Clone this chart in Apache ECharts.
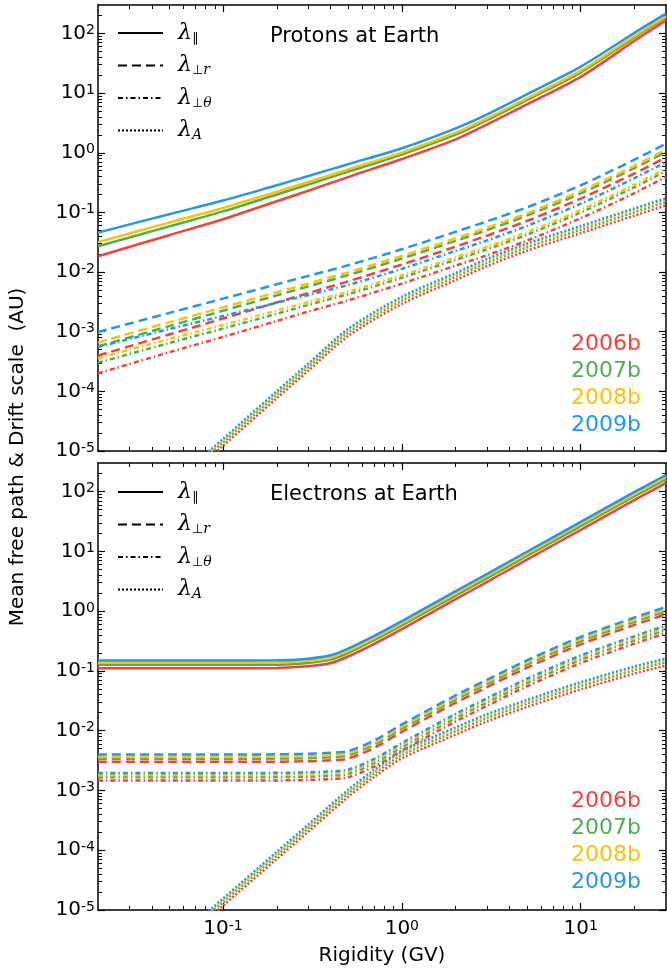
<!DOCTYPE html>
<html>
<head>
<meta charset="utf-8">
<script src="https://cdn.jsdelivr.net/npm/echarts@6.0.0/dist/echarts.min.js"></script>
<style>
  html, body { margin: 0; padding: 0; background: #fff; }
  #chart { width: 667px; height: 974px; }
</style>
</head>
<body>
<div id="chart"></div>
<script>
// ---- data (rows: 2006b, 2007b, 2008b, 2009b) ----
var years = ['2006b', '2007b', '2008b', '2009b'];
var colors = ['#F44336', '#4CAF50', '#FFC107', '#2196F3'];

// rigidity grids in GV
var rigP = [0.02, 0.05, 0.1, 0.2, 0.3, 0.5, 1, 2, 3, 5, 10, 20, 30];
var rigPA = [0.05, 0.1, 0.2, 0.3, 0.5, 1, 2, 3, 5, 10, 20, 30];
var rigE = [0.02, 0.05, 0.1, 0.2, 0.3, 0.4, 0.5, 0.7, 1, 2, 3, 5, 10, 20, 30];
var rigEA = [0.05, 0.1, 0.2, 0.3, 0.5, 0.7, 1, 2, 3, 5, 10, 20, 30];

// protons at Earth (AU)
var pPar = [
  [0.0184, 0.0415, 0.0769, 0.154, 0.231, 0.391, 0.785, 1.68, 3.0, 6.49, 18.75, 75.3, 166],
  [0.0270, 0.0583, 0.104, 0.1995, 0.293, 0.482, 0.936, 2.01, 3.52, 7.64, 22.1, 86.1, 185],
  [0.0318, 0.0675, 0.1186, 0.223, 0.324, 0.527, 1.007, 2.17, 3.78, 8.18, 23.8, 91.0, 194],
  [0.0458, 0.0933, 0.158, 0.286, 0.407, 0.643, 1.19, 2.57, 4.41, 9.55, 27.8, 103, 215]
];
var pPerpR = [
  [3.98e-4, 8.99e-4, 1.667e-3, 3.09e-3, 4.44e-3, 6.98e-3, 0.01337, 0.0267, 0.0409, 0.0718, 0.1706, 0.450, 0.841],
  [5.68e-4, 1.242e-3, 2.244e-3, 4.06e-3, 5.75e-3, 8.89e-3, 0.01683, 0.0334, 0.0507, 0.0881, 0.2084, 0.553, 1.033],
  [6.62e-4, 1.432e-3, 2.559e-3, 4.58e-3, 6.44e-3, 9.89e-3, 0.01862, 0.0368, 0.0557, 0.0964, 0.2275, 0.607, 1.13],
  [9.89e-4, 2.06e-3, 3.58e-3, 6.24e-3, 8.63e-3, 0.01297, 0.02415, 0.0473, 0.0710, 0.1213, 0.285, 0.767, 1.42]
];
var pPerpT = [
  [2.0e-4, 4.51e-4, 8.17e-4, 1.514e-3, 2.173e-3, 3.34e-3, 6.40e-3, 0.0128, 0.01914, 0.0336, 0.0798, 0.2104, 0.394],
  [3.01e-4, 6.46e-4, 1.13e-3, 2.0e-3, 2.81e-3, 4.25e-3, 8.04e-3, 0.01607, 0.0241, 0.0422, 0.0998, 0.2655, 0.494],
  [3.58e-4, 7.52e-4, 1.297e-3, 2.26e-3, 3.13e-3, 4.70e-3, 8.85e-3, 0.0177, 0.02655, 0.0465, 0.1099, 0.2931, 0.5445],
  [5.56e-4, 1.107e-3, 1.837e-3, 3.05e-3, 4.13e-3, 6.07e-3, 0.0113, 0.02265, 0.034, 0.0594, 0.1396, 0.376, 0.697]
];
var pDrift = [
  [1.97e-6, 1.22e-5, 7.67e-5, 2.21e-4, 8.41e-4, 2.92e-3, 7.33e-3, 0.01259, 0.02275, 0.0449, 0.0885, 0.1312],
  [2.24e-6, 1.38e-5, 8.71e-5, 2.51e-4, 9.55e-4, 3.31e-3, 8.32e-3, 0.01429, 0.02582, 0.0509, 0.1005, 0.149],
  [2.40e-6, 1.48e-5, 9.33e-5, 2.69e-4, 1.023e-3, 3.55e-3, 8.91e-3, 0.01531, 0.02767, 0.05458, 0.1076, 0.1596],
  [2.60e-6, 1.60e-5, 1.01e-4, 2.92e-4, 1.109e-3, 3.85e-3, 9.66e-3, 0.0166, 0.03, 0.0592, 0.1167, 0.173]
];

// electrons at Earth (AU)
var ePar = [
  [0.111, 0.111, 0.111, 0.112, 0.119, 0.135, 0.174, 0.284, 0.50, 1.58, 3.09, 7.24, 22.9, 72.4, 139],
  [0.126, 0.126, 0.126, 0.127, 0.136, 0.154, 0.199, 0.326, 0.576, 1.82, 3.56, 8.34, 26.4, 83.4, 160],
  [0.137, 0.137, 0.137, 0.138, 0.147, 0.167, 0.216, 0.354, 0.625, 1.98, 3.86, 9.04, 28.6, 90.4, 174],
  [0.149, 0.149, 0.149, 0.150, 0.160, 0.182, 0.235, 0.385, 0.68, 2.15, 4.2, 9.84, 31.1, 98.4, 189]
];
var ePerpR = [
  [3.01e-3, 3.01e-3, 3.01e-3, 3.02e-3, 3.08e-3, 3.20e-3, 3.42e-3, 5.15e-3, 9.55e-3, 0.0293, 0.0537, 0.1128, 0.2774, 0.5865, 0.88],
  [3.39e-3, 3.39e-3, 3.39e-3, 3.41e-3, 3.47e-3, 3.60e-3, 3.86e-3, 5.81e-3, 0.01076, 0.0331, 0.0605, 0.1271, 0.3127, 0.661, 0.992],
  [3.64e-3, 3.64e-3, 3.64e-3, 3.65e-3, 3.73e-3, 3.86e-3, 4.14e-3, 6.23e-3, 0.01155, 0.0355, 0.0649, 0.1364, 0.3355, 0.709, 1.064],
  [4.0e-3, 4.0e-3, 4.0e-3, 4.02e-3, 4.1e-3, 4.25e-3, 4.55e-3, 6.85e-3, 0.0127, 0.039, 0.0714, 0.15, 0.369, 0.78, 1.17]
];
var ePerpT = [
  [1.46e-3, 1.46e-3, 1.46e-3, 1.47e-3, 1.50e-3, 1.55e-3, 1.66e-3, 2.51e-3, 4.64e-3, 0.01425, 0.0261, 0.0549, 0.135, 0.285, 0.428],
  [1.66e-3, 1.66e-3, 1.66e-3, 1.67e-3, 1.70e-3, 1.76e-3, 1.89e-3, 2.85e-3, 5.27e-3, 0.01619, 0.0297, 0.0623, 0.1534, 0.324, 0.486],
  [1.80e-3, 1.80e-3, 1.80e-3, 1.81e-3, 1.84e-3, 1.91e-3, 2.05e-3, 3.08e-3, 5.71e-3, 0.01752, 0.0321, 0.0674, 0.166, 0.350, 0.526],
  [1.96e-3, 1.96e-3, 1.96e-3, 1.97e-3, 2.01e-3, 2.08e-3, 2.23e-3, 3.36e-3, 6.22e-3, 0.0191, 0.035, 0.0735, 0.181, 0.382, 0.573]
];
var eDrift = [
  [1.94e-6, 1.18e-5, 7.14e-5, 2.05e-4, 7.74e-4, 1.68e-3, 3.43e-3, 8.61e-3, 0.01429, 0.0248, 0.049, 0.0902, 0.1227],
  [2.20e-6, 1.34e-5, 8.11e-5, 2.33e-4, 8.79e-4, 1.905e-3, 3.89e-3, 9.77e-3, 0.01622, 0.0282, 0.0556, 0.1023, 0.1393],
  [2.36e-6, 1.43e-5, 8.69e-5, 2.49e-4, 9.42e-4, 2.04e-3, 4.17e-3, 0.01047, 0.01738, 0.0302, 0.0596, 0.1096, 0.1493],
  [2.56e-6, 1.55e-5, 9.42e-5, 2.70e-4, 1.021e-3, 2.21e-3, 4.52e-3, 0.01135, 0.01884, 0.0327, 0.0646, 0.1189, 0.1618]
];

// axis ranges and tick values
var xMin = 0.02, xMax = 30;
var yMin = 1e-5, yMax = 300;
var xMajor = [0.1, 1, 10];
var yMajor = [1e-5, 1e-4, 1e-3, 1e-2, 1e-1, 1, 10, 100];
var xMinor = [], yMinor = [];
[0.01, 0.1, 1, 10].forEach(function (d) {
  for (var k = 2; k <= 9; k++) {
    var v = +(k * d).toPrecision(3);
    if (v > xMin && v < xMax) xMinor.push(v);
  }
});
yMajor.forEach(function (d) {
  for (var k = 2; k <= 9; k++) {
    var v = +(k * d).toPrecision(3);
    if (v < yMax) yMinor.push(v);
  }
});

var font = 'DejaVu Sans';
var lamKeys = ['par', 'perpR', 'perpT', 'drift'];
var lamText = {
  par: '{l|λ}{s|∥}',
  perpR: '{l|λ}{s|⊥}{i|r}',
  perpT: '{l|λ}{s|⊥}{i|θ}',
  drift: '{l|λ}{i|A}'
};
var dash = {par: 'solid', perpR: [9, 5], perpT: [5, 3, 1.5, 3], drift: [2, 2]};

function powLabel(v) {
  return '{b|10}{p|' + Math.round(Math.log10(v)) + '}';
}
var powRich = {
  b: {fontFamily: font, fontSize: 20, lineHeight: 20, color: '#000'},
  p: {fontFamily: font, fontSize: 14, lineHeight: 9, verticalAlign: 'top', color: '#000'}
};

var xAxes = [], yAxes = [];
function addAxes(gi, withLabels) {
  ['bottom', 'top'].forEach(function (pos) {
    var lab = withLabels && pos === 'bottom';
    xAxes.push({
      type: 'log', logBase: 10, gridIndex: gi, position: pos, min: xMin, max: xMax,
      axisLine: {show: true, lineStyle: {color: '#000', width: 1.5}},
      axisTick: {show: true, inside: true, length: 7, customValues: xMajor, lineStyle: {color: '#000', width: 1.2}},
      axisLabel: {show: lab, customValues: xMajor, formatter: powLabel, rich: powRich, margin: 9},
      splitLine: {show: false},
      name: lab ? 'Rigidity (GV)' : '', nameLocation: 'middle', nameGap: 36,
      nameTextStyle: {fontFamily: font, fontSize: 20, color: '#000'}
    });
    xAxes.push({
      type: 'log', logBase: 10, gridIndex: gi, position: pos, min: xMin, max: xMax,
      axisLine: {show: false},
      axisTick: {show: true, inside: true, length: 4, customValues: xMinor, lineStyle: {color: '#000', width: 1}},
      axisLabel: {show: false}, splitLine: {show: false}
    });
  });
  ['left', 'right'].forEach(function (pos) {
    yAxes.push({
      type: 'log', logBase: 10, gridIndex: gi, position: pos, min: yMin, max: yMax,
      axisLine: {show: true, lineStyle: {color: '#000', width: 1.5}},
      axisTick: {show: true, inside: true, length: 7, customValues: yMajor, lineStyle: {color: '#000', width: 1.2}},
      axisLabel: {show: pos === 'left', customValues: yMajor, formatter: powLabel, rich: powRich, margin: 3},
      splitLine: {show: false}
    });
    yAxes.push({
      type: 'log', logBase: 10, gridIndex: gi, position: pos, min: yMin, max: yMax,
      axisLine: {show: false},
      axisTick: {show: true, inside: true, length: 4, customValues: yMinor, lineStyle: {color: '#000', width: 1}},
      axisLabel: {show: false}, splitLine: {show: false}
    });
  });
}
addAxes(0, false);
addAxes(1, true);

function pairs(xs, ys) {
  return xs.map(function (x, k) { return [x, ys[k]]; });
}

var series = [];
function addPanel(gi, rig, rigA, par, perpR, perpT, drift) {
  for (var i = 0; i < 4; i++) {
    [[rig, par[i], 'par'], [rig, perpR[i], 'perpR'], [rig, perpT[i], 'perpT'], [rigA, drift[i], 'drift']].forEach(function (c) {
      series.push({
        type: 'line', name: years[i], xAxisIndex: gi * 4, yAxisIndex: gi * 4,
        data: pairs(c[0], c[1]), symbol: 'none', smooth: 0.3, silent: true,
        lineStyle: {color: colors[i], width: 2.5, type: dash[c[2]]},
        itemStyle: {color: colors[i]}
      });
    });
  }
}
addPanel(0, rigP, rigPA, pPar, pPerpR, pPerpT, pDrift);
addPanel(1, rigE, rigEA, ePar, ePerpR, ePerpT, eDrift);

// black key lines for the line-style legend
lamKeys.forEach(function (k) {
  series.push({
    type: 'line', name: k, xAxisIndex: 0, yAxisIndex: 0, data: [], symbol: 'none',
    lineStyle: {color: '#000', width: 2, type: dash[k]}, itemStyle: {color: '#000'}
  });
});

var lamRich = {
  l: {fontFamily: 'DejaVu Serif', fontStyle: 'italic', fontSize: 22, lineHeight: 24, color: '#000', padding: [0, 0, 0, 10]},
  s: {fontFamily: font, fontSize: 13, lineHeight: 10, verticalAlign: 'bottom', color: '#000'},
  i: {fontFamily: 'DejaVu Serif', fontStyle: 'italic', fontSize: 14, lineHeight: 10, verticalAlign: 'bottom', color: '#000'}
};
function lamLegend(top) {
  return {
    data: lamKeys, orient: 'vertical', left: 117, top: top, padding: 0,
    itemWidth: 45, itemHeight: 24, itemGap: 9.5, selectedMode: false,
    itemStyle: {color: 'rgba(0,0,0,0)', borderColor: 'rgba(0,0,0,0)', borderWidth: 0, opacity: 0},
    formatter: function (n) { return lamText[n]; },
    textStyle: {rich: lamRich}
  };
}
function yearLegend(top) {
  return {
    data: years.map(function (y, i) { return {name: y, icon: 'none', textStyle: {color: colors[i]}}; }),
    orient: 'vertical', right: 21, top: top, padding: 0, align: 'right',
    itemWidth: 1, itemHeight: 22, itemGap: 5, selectedMode: false,
    textStyle: {fontFamily: font, fontSize: 22, lineHeight: 22}
  };
}

var option = {
  animation: false,
  backgroundColor: '#fff',
  title: [
    {text: 'Protons at Earth', left: 270, top: 26, padding: 0, textStyle: {fontFamily: font, fontSize: 21, fontWeight: 'normal', color: '#000'}},
    {text: 'Electrons at Earth', left: 270, top: 484, padding: 0, textStyle: {fontFamily: font, fontSize: 21, fontWeight: 'normal', color: '#000'}}
  ],
  grid: [
    {left: 98, top: 5, width: 568, height: 446, outerBoundsMode: 'none'},
    {left: 98, top: 463, width: 568, height: 447, outerBoundsMode: 'none'}
  ],
  legend: [lamLegend(22), lamLegend(481), yearLegend(333), yearLegend(790)],
  xAxis: xAxes,
  yAxis: yAxes,
  series: series,
  graphic: [{
    type: 'text', x: 18, y: 457, rotation: Math.PI / 2,
    style: {text: 'Mean free path & Drift scale  (AU)', fontFamily: font, fontSize: 20, fill: '#000',
      align: 'center', verticalAlign: 'middle', textAlign: 'center', textVerticalAlign: 'middle'}
  }]
};

var myChart = echarts.init(document.getElementById('chart'));
myChart.setOption(option);
</script>
</body>
</html>
